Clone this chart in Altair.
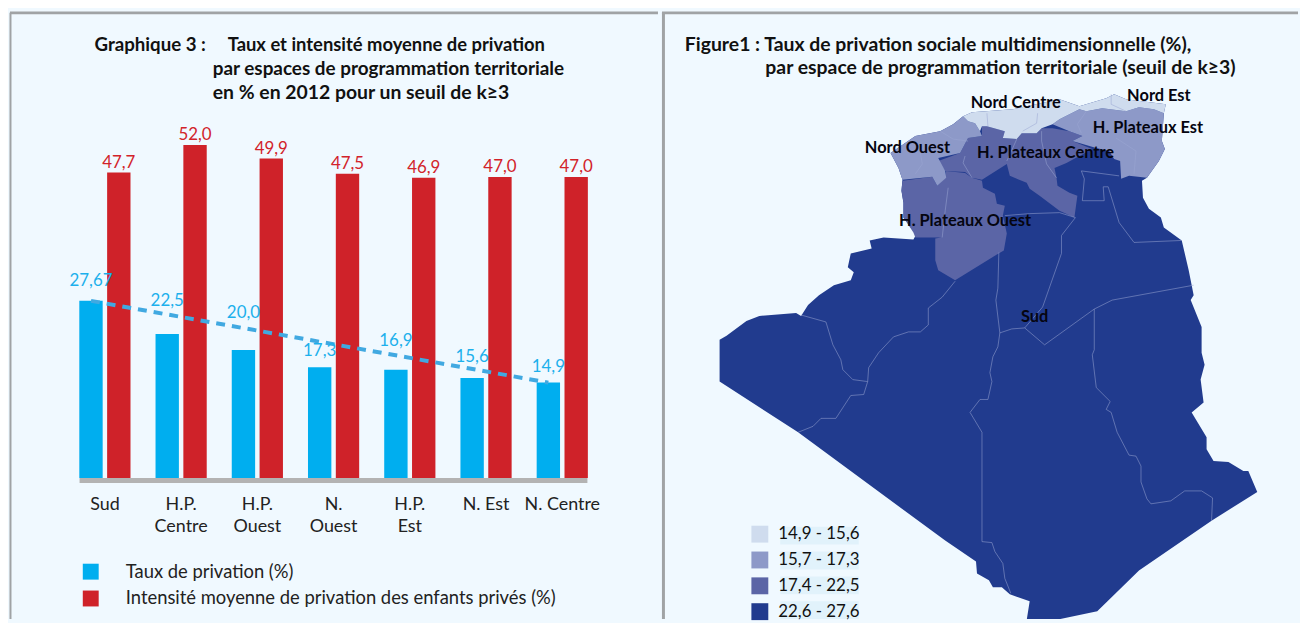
import altair as alt
import pandas as pd

FONT = "Lato"
BG = "#f0f9ff"
GREY = "#a0a3a5"

categories = ["Sud", "H.P.\nCentre", "H.P.\nOuest", "N.\nOuest", "H.P.\nEst", "N. Est", "N. Centre"]
taux = [27.67, 22.5, 20.0, 17.3, 16.9, 15.6, 14.9]
taux_text = ["27,67", "22,5", "20,0", "17,3", "16,9", "15,6", "14,9"]
taux_label_level = [30.7, 27.6, 25.8, 19.9, 21.4, 18.9, 17.4]
intensite = [47.7, 52.0, 49.9, 47.5, 46.9, 47.0, 47.0]
intensite_text = ["47,7", "52,0", "49,9", "47,5", "46,9", "47,0", "47,0"]
series = ["Taux de privation (%)", "Intensité moyenne de privation des enfants privés (%)"]
series_colors = ["#00aeef", "#cf2229"]
trend_cats = [categories[0], categories[-1]]
trend_vals = [27.67, 14.9]

classes = ["14,9 - 15,6", "15,7 - 17,3", "17,4 - 22,5", "22,6 - 27,6"]
class_colors = ["#cfdcee", "#8d99c8", "#5b65a6", "#213b8e"]

# Map outlines (map coordinates)
algeria = [(890,152),(915,135),(940,130),(953,123),(963,115),(972,111),(1013,108),(1060,98),(1080,105),(1107,97),
    (1115,93),(1127,98),(1167,103),(1165,112),(1163,140),(1166,148),(1160,160),(1148,177),(1143,180),(1144,197),
    (1150,208),(1162,217),(1165,227),(1183,240),(1190,270),(1195,295),(1192,300),(1203,327),(1203,353),(1206,365),
    (1202,380),(1205,403),(1193,413),(1208,438),(1208,450),(1215,462),(1230,463),(1245,472),(1250,472),(1259,493),
    (1213,522),(1140,572),(1098,613),(1032,627),(1027,622),(1030,603),(1010,596),(1002,589),(993,589),(989,582),
    (977,575),(976,563),(945,542),(797,433),(718,382),(718,340),(725,336),(745,321),(758,316),(795,313),(800,316),
    (807,305),(818,295),(833,285),(850,280),(853,272),(847,267),(850,253),(871,248),(869,240),(883,237),(913,239),
    (917,232),(913,230),(903,217),(903,202),(901,190),(902,179),(898,167)]
hpo_a = [(902,180),(932,176),(937,185),(945,177),(946,170),(965,172),(972,177),(982,180),(983,187),(995,193),
    (997,203),(1005,205),(1003,215),(1007,233),(1004,250),(997,254),(955,280),(938,270),(935,260),(935,238),
    (941,237),(915,237),(913,232),(903,217),(903,202),(901,190)]
hpc = [(938,160),(960,152),(968,137),(982,135),(982,125),(987,125),(1005,130),(1003,137),(1017,138),(1022,132),
    (1037,132),(1042,127),(1053,127),(1070,130),(1083,135),(1073,140),(1093,148),(1067,162),(1055,167),(1057,177),
    (1058,185),(1070,192),(1078,195),(1075,217),(1060,210),(1040,195),(1030,188),(1027,182),(1010,175),(1007,163),
    (982,179),(972,177),(965,171),(945,170)]
no = [(890,152),(915,135),(940,130),(953,123),(963,115),(968,120),(975,122),(980,130),(982,135),(968,137),
    (960,152),(938,157),(945,170),(946,177),(937,185),(932,176),(902,179),(898,167)]
hpe = [(1053,123),(1060,118),(1070,113),(1080,108),(1087,110),(1103,107),(1127,110),(1140,106),(1155,108),(1165,112),
    (1163,140),(1166,148),(1160,160),(1148,177),(1130,175),(1122,178),(1121,160),(1115,158),(1110,150),(1097,147),
    (1073,140),(1083,135),(1070,130)]
nc = [(963,115),(972,111),(1013,108),(1060,98),(1080,105),(1107,97),(1115,93),(1127,98),(1167,103),(1165,112),
    (1155,108),(1140,106),(1127,110),(1103,107),(1087,110),(1080,108),(1070,113),(1060,118),(1053,123),(1042,127),
    (1037,132),(1022,132),(1017,138),(1003,137),(1005,130),(987,125),(982,125),(980,130),(975,122),(968,120)]
inner_lines = [
    [(800,315),(825,322),(832,345),(840,360),(842,370),(852,380),(867,382)],
    [(955,281),(942,297),(928,308),(928,325),(920,332),(908,332),(893,337),(878,353),(868,368),(867,382),(863,395),(850,396),(835,419),(820,419),(812,427),(797,433)],
    [(999,252),(998,288),(996,300),(1000,333),(998,347),(993,357),(990,373),(992,382),(988,400),(980,400),(970,413),(982,433),(982,543),(992,544),(995,553),(1003,565),(1005,580),(1011,595)],
    [(1000,333),(1012,329),(1025,328),(1045,345),(1095,309),(1113,300),(1195,285)],
    [(1025,328),(1043,307),(1062,253),(1062,235),(1076,217)],
    [(1095,309),(1095,350),(1093,355),(1097,388),(1111,402),(1107,410),(1112,413),(1118,433),(1130,456),(1137,457),(1142,467),(1142,483),(1148,500),(1152,505),(1172,502),(1186,492),(1203,492),(1214,499),(1213,522)],
    [(1005,215),(1030,213),(1060,212),(1076,217)],
    [(1120,175),(1082,170),(1085,178),(1083,200),(1105,200),(1104,186),(1109,186),(1120,222),(1135,242),(1183,240)],
    [(948,187),(945,210),(942,237)],
    [(965,155),(963,162),(972,177)],
    [(1007,160),(1013,147),(1017,138)],
    [(1042,130),(1042,140),(1047,163),(1057,177)],
    [(940,130),(953,138),(968,140)],
    [(920,152),(922,163),(915,173)],
    [(1117,137),(1137,150),(1135,173)],
    [(1087,110),(1078,123),(1082,132)],
    [(987,112),(988,125)],
    [(1038,112),(1037,122),(1023,130)],
    [(1112,93),(1112,103),(1127,110)],
]

map_labels = ["Nord Centre", "Nord Est", "H. Plateaux Est", "Nord Ouest", "H. Plateaux Centre", "H. Plateaux Ouest", "Sud"]
map_label_xy = [(1016,102),(1160,95),(1149,127),(907,147),(1046,152),(965,220),(1035,317)]

PANEL_H = 613
RIGHT_W = 640


def one():
    return alt.Data(values=[{"a": 1}])


def txt(t, x, y, size=19, bold=True, color="#111111", align="left"):
    return alt.Chart(alt.Data(values=[{"t": t}])).mark_text(
        font=FONT, fontSize=size, fontWeight="bold" if bold else "normal",
        color=color, align=align, baseline="middle",
    ).encode(text="t:N", x=alt.value(x), y=alt.value(y))


def rule(x, x2, y, y2, w, color=GREY):
    return alt.Chart(one()).mark_rule(color=color, strokeWidth=w).encode(
        x=alt.value(x), x2=alt.value(x2), y=alt.value(y), y2=alt.value(y2))


# ---------- left panel
OX, OY = 8, 8
rows = []
for c, t, i in zip(categories, taux, intensite):
    rows.append({"cat": c, "serie": series[0], "v": t})
    rows.append({"cat": c, "serie": series[1], "v": i})
bars_df = pd.DataFrame(rows)

xs = alt.Scale(domain=categories, range=[57.15, 594.05], paddingInner=0, paddingOuter=0)
ys = alt.Scale(domain=[0, 52], range=[471, 136], nice=False, zero=True)
xo = alt.Scale(domain=series, paddingInner=0.16, paddingOuter=0.45)

x_enc = alt.X("cat:N", scale=xs, axis=None, sort=categories)
xoff = alt.XOffset("serie:N", scale=xo, sort=series)

bars = alt.Chart(bars_df).mark_bar().encode(
    x=x_enc, xOffset=xoff,
    y=alt.Y("v:Q", scale=ys, axis=None),
    color=alt.Color("serie:N", scale=alt.Scale(domain=series, range=series_colors), legend=alt.Legend(
        title=None, orient="none", legendX=72, legendY=556, symbolType="square", symbolSize=256,
        symbolStrokeWidth=0, labelFont=FONT, labelFontSize=18.5, labelColor="#222222", labelOffset=26,
        rowPadding=8, labelLimit=500)),
)

trend = alt.Chart(pd.DataFrame({"cat": trend_cats, "serie": series[0], "v": trend_vals})).mark_line(
    color="#41a9e1", strokeWidth=4, strokeDash=[9, 7]).encode(
    x=x_enc, xOffset=xoff, y=alt.Y("v:Q", scale=ys, axis=None))

lab_blue = alt.Chart(pd.DataFrame({"cat": categories, "serie": series[0], "v": taux_label_level, "t": taux_text})).mark_text(
    font=FONT, fontSize=17, color="#1cb0ec", baseline="middle").encode(
    x=x_enc, xOffset=xoff, y=alt.Y("v:Q", scale=ys, axis=None), text="t:N")

lab_red = alt.Chart(pd.DataFrame({"cat": categories, "serie": series[1], "v": intensite, "t": intensite_text})).mark_text(
    font=FONT, fontSize=17, color="#d2232a", baseline="bottom", dy=-1).encode(
    x=x_enc, xOffset=xoff, y=alt.Y("v:Q", scale=ys, axis=None), text="t:N")

cat_labels = alt.Chart(pd.DataFrame({"cat": categories})).mark_text(
    font=FONT, fontSize=18, color="#222222", baseline="top", lineBreak="\n", lineHeight=22).encode(
    x=x_enc, y=alt.value(489), text="cat:N")

left_titles = [
    txt("Graphique 3 :", 93 - OX, 43 - OY, size=18.8),
    txt("Taux et intensité moyenne de privation", 227 - OX, 43 - OY, size=18.5),
    txt("par espaces de programmation territoriale", 212 - OX, 68 - OY, size=19),
    txt("en % en  2012 pour un seuil de k≥3", 212 - OX, 92 - OY, size=19.5),
]

left = alt.layer(
    rule(0, 652, 3, 3, 3), rule(0.5, 0.5, 3, PANEL_H, 2),
    bars,
    rule(70, 581, 473.5, 473.5, 5, "#b3b3b3"),
    trend, lab_blue, lab_red, cat_labels, *left_titles,
).properties(width=652, height=PANEL_H)


# ---------- right panel
RX, RY = 660, 8


def poly(pts, klass):
    ring = [list(p) for p in pts] + [list(pts[0])]
    return {"type": "Feature", "properties": {"k": klass},
            "geometry": {"type": "Polygon", "coordinates": [ring]}}


features = [poly(algeria, classes[3]), poly(hpo_a, classes[2]), poly(hpc, classes[2]),
            poly(no, classes[1]), poly(hpe, classes[1]), poly(nc, classes[0])]
line_features = [{"type": "Feature", "properties": {"k": "l"},
                  "geometry": {"type": "LineString", "coordinates": [list(p) for p in l]}} for l in inner_lines]

proj = dict(type="identity", scale=1, translate=[-RX, -RY])

map_fill = alt.Chart(alt.Data(values=features)).mark_geoshape(strokeWidth=0, clip=True).encode(
    color=alt.Color("properties.k:N", scale=alt.Scale(domain=classes, range=class_colors), legend=alt.Legend(
        title=None, orient="none", legendX=90, legendY=519, symbolType="square", symbolSize=289,
        symbolStrokeWidth=0, labelFont=FONT, labelFontSize=17, labelColor="#111111", labelOffset=10,
        rowPadding=8))
).project(**proj)

map_lines = alt.Chart(alt.Data(values=line_features)).mark_geoshape(
    filled=False, stroke="#9aa7d2", strokeWidth=0.7, strokeOpacity=0.75, clip=True).project(**proj)

legend_bg = [rule(119, 198, 529 + i * 25, 529 + i * 25, 18, "#e1f2fb") for i in range(4)]

map_text = [txt(t, x - RX, y - RY, size=16.5, color="#050510", align="center")
            for t, (x, y) in zip(map_labels, map_label_xy)]

right_titles = [
    txt("Figure1 : Taux de privation sociale multidimensionnelle (%),", 683 - RX, 43 - RY, size=19.5),
    txt("par espace de programmation territoriale (seuil de k≥3)", 764 - RX, 67 - RY, size=19.5),
]

right = alt.layer(
    rule(1.5, 1.5, 3, PANEL_H, 3), rule(0, RIGHT_W, 3, 3, 3),
    *legend_bg, map_fill, map_lines, *map_text, *right_titles,
).properties(width=RIGHT_W, height=PANEL_H)

chart = alt.hconcat(left, right, spacing=0, padding=0, background=BG).resolve_scale(color="independent").configure_view(stroke=None)
chart.save("out.html", embed_options={"renderer": "svg", "actions": False})
